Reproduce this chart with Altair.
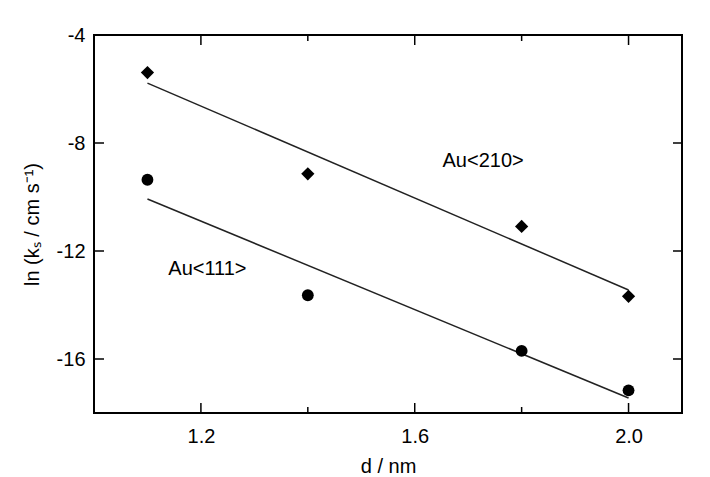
import altair as alt
import pandas as pd

# ---- data ----
d_vals = [1.1, 1.4, 1.8, 2.0]
au210 = [-5.39, -9.14, -11.09, -13.68]
au111 = [-9.36, -13.64, -15.70, -17.16]

x_major = [1.2, 1.6, 2.0]
x_minor = [1.4, 1.8]
y_major = [-4, -8, -12, -16]
y_right = [-8, -12, -16]

label_text = ["Au<210>", "Au<111>"]
label_x = [1.652, 1.139]
label_y = [-8.68, -12.66]

FONT = "Liberation Sans"
W, H = 588, 378

rows = [{"d": d, "lnk": v, "series": "Au<210>"} for d, v in zip(d_vals, au210)]
rows += [{"d": d, "lnk": v, "series": "Au<111>"} for d, v in zip(d_vals, au111)]
df = pd.DataFrame(rows)

xs = alt.Scale(domain=[1.0, 2.1], nice=False, zero=False)
ys = alt.Scale(domain=[-18, -4], nice=False, zero=False)

x_axis = alt.Axis(values=x_major, format=".1f", title="d / nm", ticks=False, domain=False,
                  grid=False, labelFontSize=20, labelPadding=13, titleFontSize=20,
                  titleFontWeight="normal", titlePadding=10, labelColor="black",
                  titleColor="black", labelFont=FONT, titleFont=FONT)
y_axis = alt.Axis(values=y_major, labelExpr="'' + datum.value", title="ln (kₛ / cm s⁻¹)",
                  ticks=False, domain=False,
                  grid=False, labelFontSize=20, labelPadding=9, titleFontSize=20,
                  titleFontWeight="normal", titlePadding=14, labelColor="black",
                  titleColor="black", labelFont=FONT, titleFont=FONT)

X = alt.X("d:Q", scale=xs, axis=x_axis)
Y = alt.Y("lnk:Q", scale=ys, axis=y_axis)

base = alt.Chart(df)

lines = base.transform_regression(
    "d", "lnk", groupby=["series"], extent=[1.1, 2.0]
).mark_line(color="#222222", strokeWidth=1.5).encode(x=X, y=Y, detail="series:N")

diamonds = base.transform_filter(alt.datum.series == "Au<210>").mark_point(
    shape="diamond", filled=True, color="black", size=175, opacity=1
).encode(x=X, y=Y)

circles = base.transform_filter(alt.datum.series == "Au<111>").mark_point(
    shape="circle", filled=True, color="black", size=140, opacity=1
).encode(x=X, y=Y)

labels = alt.Chart(pd.DataFrame({"d": label_x, "lnk": label_y, "txt": label_text})).mark_text(
    align="left", baseline="middle", fontSize=20, font=FONT, color="black"
).encode(x=X, y=Y, text="txt:N")

def xticks(vals, y0, y1):
    return alt.Chart(pd.DataFrame({"d": vals})).mark_rule(color="black", strokeWidth=1.5).encode(
        x=X, y=alt.value(y0), y2=alt.value(y1)
    )

def yticks(vals, x0, x1):
    return alt.Chart(pd.DataFrame({"lnk": vals})).mark_rule(color="black", strokeWidth=1.5).encode(
        y=Y, x=alt.value(x0), x2=alt.value(x1)
    )

ticks = [
    xticks(x_major, H, H - 10), xticks(x_minor, H, H - 6),
    xticks(x_major, 0, 10), xticks(x_minor, 0, 6),
    yticks(y_major, 0, 10), yticks(y_right, W, W - 9),
]

chart = alt.layer(lines, diamonds, circles, labels, *ticks).properties(
    width=W, height=H,
    padding={"left": 86, "top": 27, "right": 20, "bottom": 64},
    autosize=alt.AutoSizeParams(type="none"),
    background="white",
).configure_view(stroke="black", strokeWidth=2)

chart.save("out.html", embed_options={"renderer": "svg", "actions": False})
